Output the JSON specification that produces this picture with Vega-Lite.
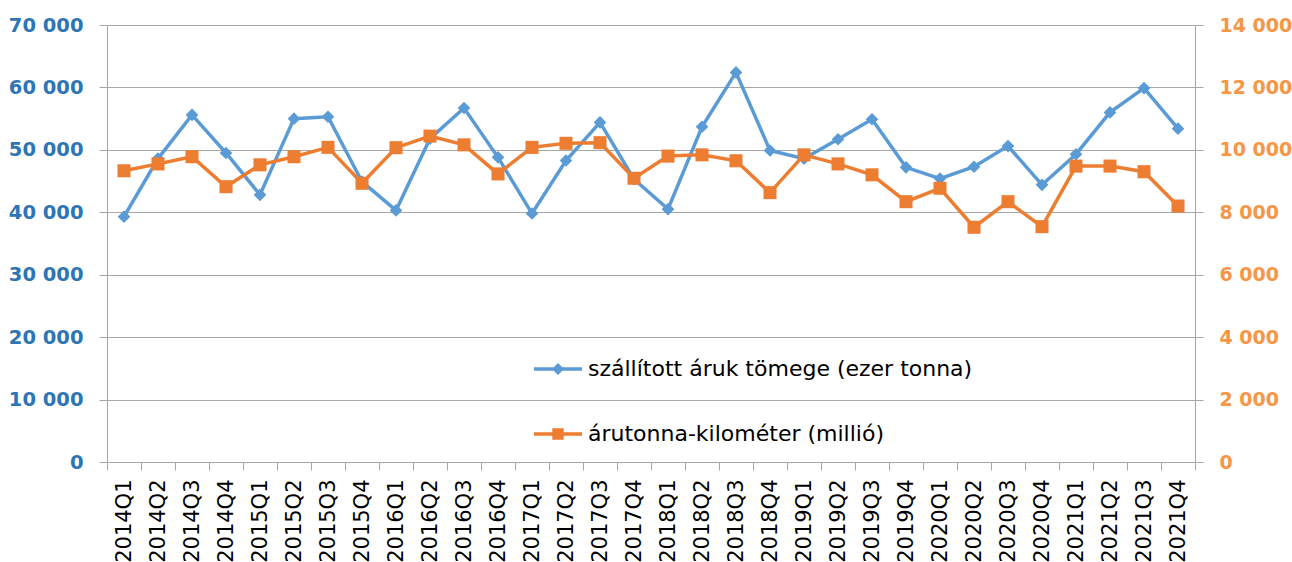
{
  "$schema": "https://vega.github.io/schema/vega-lite/v6.json",
  "width": 1088,
  "height": 437,
  "autosize": {"type": "none"},
  "padding": {"left": 107, "top": 25, "right": 97, "bottom": 100},
  "background": "white",
  "config": {"view": {"stroke": null}, "font": "DejaVu Sans"},
  "datasets": {
    "main": [
      {"q": "2014Q1", "mass": 39300, "tkm": 9330},
      {"q": "2014Q2", "mass": 48600, "tkm": 9550},
      {"q": "2014Q3", "mass": 55600, "tkm": 9780},
      {"q": "2014Q4", "mass": 49500, "tkm": 8820},
      {"q": "2015Q1", "mass": 42800, "tkm": 9520},
      {"q": "2015Q2", "mass": 55000, "tkm": 9780},
      {"q": "2015Q3", "mass": 55300, "tkm": 10080},
      {"q": "2015Q4", "mass": 44900, "tkm": 8930},
      {"q": "2016Q1", "mass": 40300, "tkm": 10070},
      {"q": "2016Q2", "mass": 51800, "tkm": 10440},
      {"q": "2016Q3", "mass": 56700, "tkm": 10160},
      {"q": "2016Q4", "mass": 48800, "tkm": 9230},
      {"q": "2017Q1", "mass": 39800, "tkm": 10080},
      {"q": "2017Q2", "mass": 48300, "tkm": 10210},
      {"q": "2017Q3", "mass": 54400, "tkm": 10230},
      {"q": "2017Q4", "mass": 45300, "tkm": 9090},
      {"q": "2018Q1", "mass": 40500, "tkm": 9800},
      {"q": "2018Q2", "mass": 53700, "tkm": 9840},
      {"q": "2018Q3", "mass": 62400, "tkm": 9650},
      {"q": "2018Q4", "mass": 49900, "tkm": 8630},
      {"q": "2019Q1", "mass": 48600, "tkm": 9840},
      {"q": "2019Q2", "mass": 51700, "tkm": 9550},
      {"q": "2019Q3", "mass": 54900, "tkm": 9200},
      {"q": "2019Q4", "mass": 47200, "tkm": 8340},
      {"q": "2020Q1", "mass": 45400, "tkm": 8770},
      {"q": "2020Q2", "mass": 47300, "tkm": 7520},
      {"q": "2020Q3", "mass": 50600, "tkm": 8340},
      {"q": "2020Q4", "mass": 44400, "tkm": 7540},
      {"q": "2021Q1", "mass": 49300, "tkm": 9480},
      {"q": "2021Q2", "mass": 56000, "tkm": 9480},
      {"q": "2021Q3", "mass": 59900, "tkm": 9300},
      {"q": "2021Q4", "mass": 53400, "tkm": 8200}
    ],
    "series": [
      {"series": "szállított áruk tömege (ezer tonna)"},
      {"series": "árutonna-kilométer (millió)"}
    ]
  },
  "layer": [
    {
      "data": {"name": "main"},
      "encoding": {
        "x": {
          "field": "q", "type": "ordinal", "sort": null,
          "scale": {"type": "band", "paddingInner": 0, "paddingOuter": 0},
          "axis": {
            "title": null, "labelAngle": -90, "tickBand": "extent", "grid": false,
            "domainColor": "#a6a6a6", "tickColor": "#a6a6a6", "tickSize": 8, "labelPadding": 9,
            "labelFont": "DejaVu Sans", "labelFontSize": 21, "labelColor": "#000000"
          }
        },
        "y": {
          "field": "mass", "type": "quantitative",
          "scale": {"domain": [0, 70000], "nice": false},
          "axis": {
            "title": null, "orient": "left",
            "values": [0, 10000, 20000, 30000, 40000, 50000, 60000, 70000],
            "labelExpr": "replace(format(datum.value, ','), ',', ' ')",
            "grid": true, "gridColor": "#a6a6a6", "domainColor": "#a6a6a6", "tickColor": "#a6a6a6",
            "tickSize": 8, "labelPadding": 16,
            "labelFont": "DejaVu Sans", "labelFontSize": 19.5, "labelFontWeight": "bold", "labelColor": "#2E75B6"
          }
        }
      },
      "layer": [
        {"mark": {"type": "line", "color": "#5B9BD5", "strokeWidth": 3.5}},
        {"mark": {"type": "point", "shape": "diamond", "filled": true, "opacity": 1, "color": "#5B9BD5", "size": 160}}
      ]
    },
    {
      "data": {"name": "main"},
      "encoding": {
        "x": {
          "field": "q", "type": "ordinal", "sort": null,
          "scale": {"type": "band", "paddingInner": 0, "paddingOuter": 0}
        },
        "y": {
          "field": "tkm", "type": "quantitative",
          "scale": {"domain": [0, 14000], "nice": false},
          "axis": {
            "title": null, "orient": "right",
            "values": [0, 2000, 4000, 6000, 8000, 10000, 12000, 14000],
            "labelExpr": "replace(format(datum.value, ','), ',', ' ')",
            "grid": false, "domainColor": "#a6a6a6", "tickColor": "#a6a6a6",
            "tickSize": 8, "labelPadding": 16,
            "labelFont": "DejaVu Sans", "labelFontSize": 19, "labelFontWeight": "bold", "labelColor": "#F79646"
          }
        }
      },
      "layer": [
        {"mark": {"type": "line", "color": "#ED7D31", "strokeWidth": 3.5}},
        {"mark": {"type": "point", "shape": "square", "filled": true, "opacity": 1, "color": "#ED7D31", "size": 170}}
      ]
    },
    {
      "data": {"name": "series"},
      "mark": {"type": "point", "filled": true, "opacity": 0},
      "encoding": {
        "color": {
          "field": "series", "type": "nominal",
          "scale": {
            "domain": ["szállított áruk tömege (ezer tonna)", "árutonna-kilométer (millió)"],
            "range": ["#5B9BD5", "#ED7D31"]
          },
          "legend": {
            "title": null, "orient": "none", "legendX": 440, "legendY": 333, "direction": "vertical",
            "rowPadding": 43, "padding": 0, "symbolSize": 144, "symbolStrokeWidth": 0, "symbolOpacity": 1,
            "labelOffset": 19, "labelFont": "DejaVu Sans", "labelFontSize": 22, "labelColor": "#000000", "labelLimit": 600
          }
        },
        "shape": {
          "field": "series", "type": "nominal",
          "scale": {
            "domain": ["szállított áruk tömege (ezer tonna)", "árutonna-kilométer (millió)"],
            "range": ["M-4,-0.28H4V0.28H-4Z M0,-1L1,0L0,1L-1,0Z", "M-4,-0.28H4V0.28H-4Z M-0.95,-0.95H0.95V0.95H-0.95Z"]
          },
          "legend": {
            "title": null, "orient": "none", "legendX": 440, "legendY": 333, "direction": "vertical",
            "rowPadding": 43, "padding": 0, "symbolSize": 144, "symbolStrokeWidth": 0, "symbolOpacity": 1,
            "labelOffset": 19, "labelFont": "DejaVu Sans", "labelFontSize": 22, "labelColor": "#000000", "labelLimit": 600
          }
        }
      }
    }
  ],
  "resolve": {"scale": {"y": "independent"}}
}
